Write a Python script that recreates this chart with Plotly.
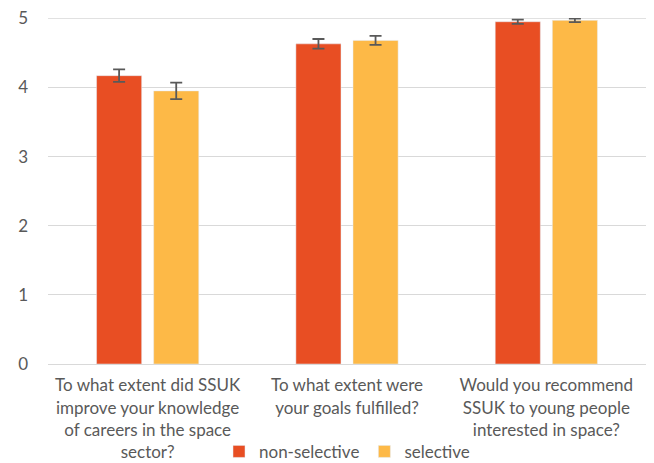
import plotly.graph_objects as go

categories = [
    "To what extent did SSUK<br>improve your knowledge<br>of careers in the space<br>sector?",
    "To what extent were<br>your goals fulfilled?",
    "Would you recommend<br>SSUK to young people<br>interested in space?",
]
non_selective = [4.17, 4.63, 4.95]
non_selective_err = [0.09, 0.07, 0.03]
selective = [3.95, 4.68, 4.97]
selective_err = [0.12, 0.065, 0.025]

fig = go.Figure()
fig.add_trace(go.Bar(
    x=categories, y=non_selective, name="non-selective",
    marker=dict(color="#E84E23"),
    error_y=dict(type="data", array=non_selective_err, color="#595959", thickness=1.8, width=6),
))
fig.add_trace(go.Bar(
    x=categories, y=selective, name="selective",
    marker=dict(color="#FDB947"),
    error_y=dict(type="data", array=selective_err, color="#595959", thickness=1.8, width=6),
))

fig.update_layout(
    width=646, height=455,
    margin=dict(l=40, r=8, t=10, b=99, autoexpand=False),
    paper_bgcolor="white", plot_bgcolor="white",
    barmode="group", bargap=0.427, bargroupgap=0.21,
    font=dict(family="Lato, Open Sans, sans-serif", size=17, color="#595959"),
    showlegend=True,
    legend=dict(orientation="h", x=0.5, xanchor="center", y=-0.254, yanchor="middle",
                font=dict(size=17), itemwidth=30, bgcolor="rgba(0,0,0,0)"),
    xaxis=dict(showline=True, linecolor="#d9d9d9", linewidth=1, ticks="", tickfont=dict(size=17),
               ticklabelstandoff=6),
    yaxis=dict(range=[0, 5.004], tickvals=[0, 1, 2, 3, 4, 5], showgrid=True, gridcolor="#d9d9d9", gridwidth=1,
               zeroline=True, zerolinecolor="#d9d9d9", zerolinewidth=1, ticks="",
               tickfont=dict(size=17), ticklabelstandoff=19, ticklabeloverflow="allow"),
)
fig.add_shape(type="line", xref="paper", yref="y", x0=0, x1=1, y0=5, y1=5,
              line=dict(color="#d9d9d9", width=1), layer="below")
fig.write_html("out.html")
